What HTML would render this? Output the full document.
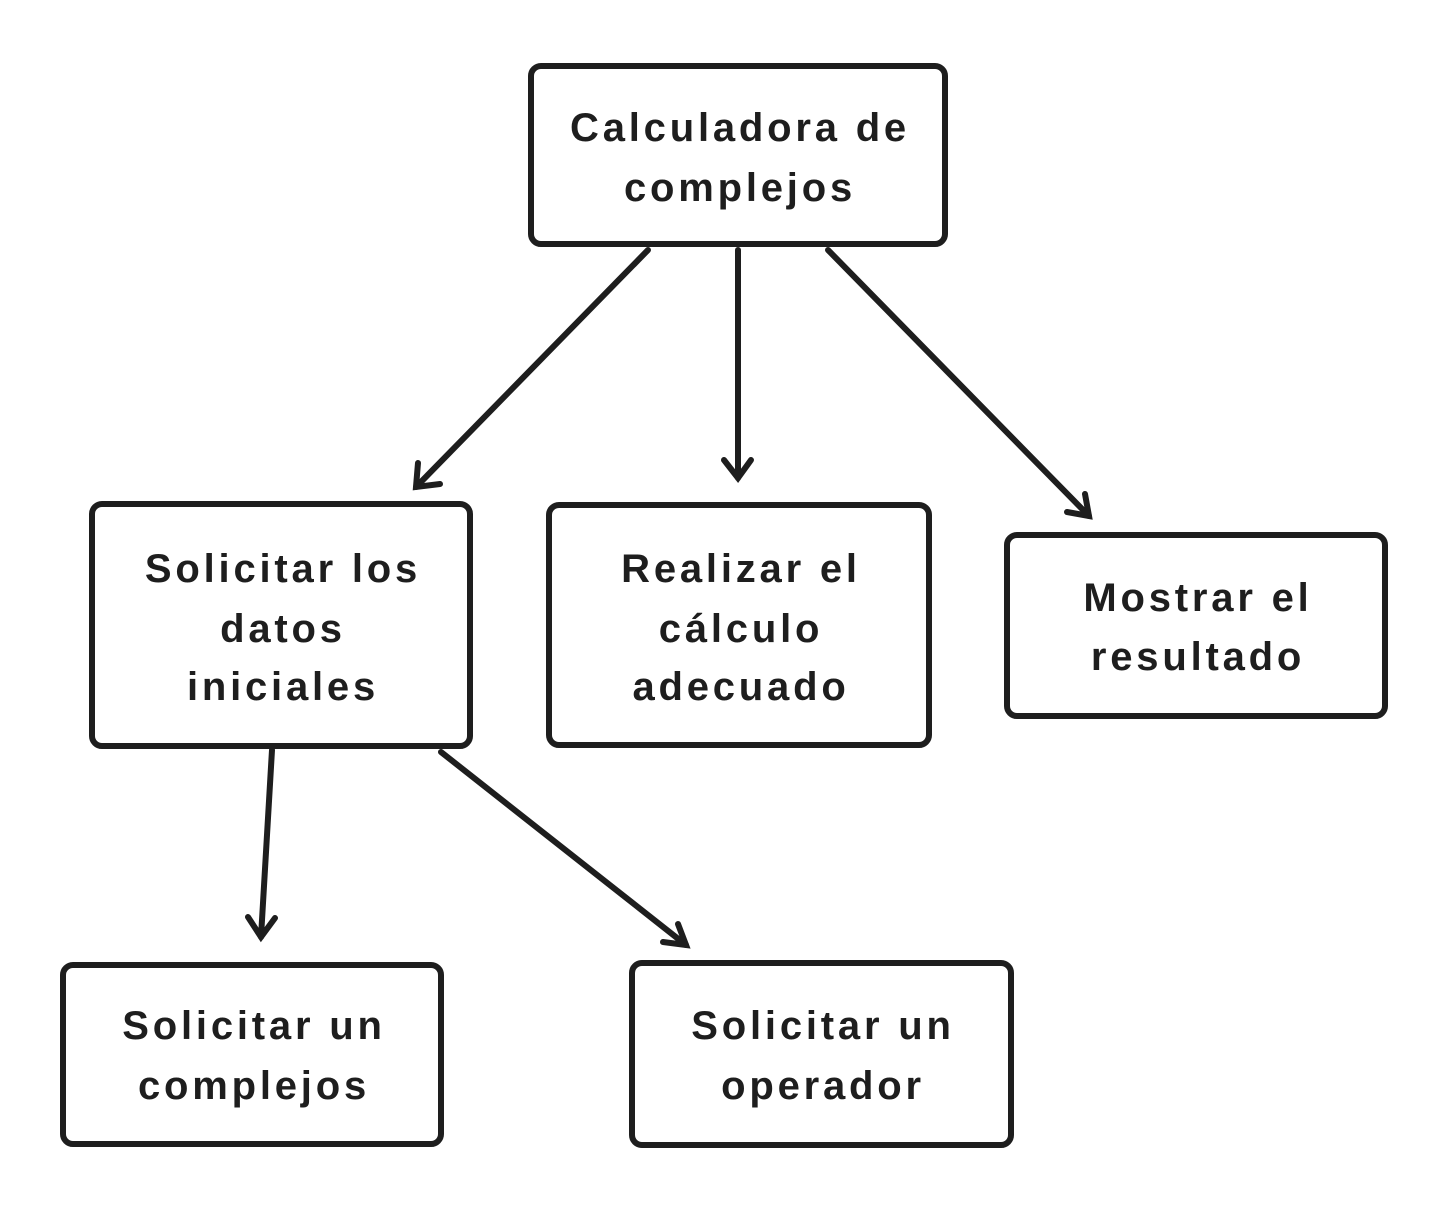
<!DOCTYPE html>
<html><head><meta charset="utf-8"><style>
html,body{margin:0;padding:0;background:#fff;}
svg{display:block}
text{font-family:"Liberation Sans",sans-serif;font-size:40px;font-weight:bold;fill:#1e1e1e;letter-spacing:3.8px;text-anchor:middle;}
</style></head><body>
<svg width="1449" height="1209" viewBox="0 0 1449 1209">
<g fill="none" stroke="#1e1e1e" stroke-width="6" stroke-linejoin="round">
<rect x="531" y="66" width="414" height="178" rx="10"/>
<rect x="92" y="504" width="378" height="242" rx="10"/>
<rect x="549" y="505" width="380" height="240" rx="10"/>
<rect x="1007" y="535" width="378" height="181" rx="10"/>
<rect x="63" y="965" width="378" height="179" rx="10"/>
<rect x="632" y="963" width="379" height="182" rx="10"/>
</g>
<g stroke="#1e1e1e" stroke-width="6" stroke-linecap="round" fill="none">
<line x1="648" y1="250" x2="416" y2="487"/>
<path d="M418,463 L416,487 L440,484"/>
<line x1="738" y1="250" x2="738" y2="478"/>
<path d="M724,460 L738,478 L751,460"/>
<line x1="828" y1="250" x2="1089" y2="516"/>
<path d="M1067,512 L1089,516 L1085,494"/>
<line x1="272" y1="750" x2="261" y2="937"/>
<path d="M248,917 L261,937 L275,918"/>
<line x1="441" y1="752" x2="686" y2="945"/>
<path d="M663,942 L686,945 L678,924"/>
</g>
<text x="740" y="141">Calculadora de</text>
<text x="740" y="201">complejos</text>
<text x="283" y="582">Solicitar los</text>
<text x="283" y="642">datos</text>
<text x="283" y="700">iniciales</text>
<text x="741" y="582">Realizar el</text>
<text x="741" y="642">cálculo</text>
<text x="741" y="700">adecuado</text>
<text x="1198" y="611">Mostrar el</text>
<text x="1198" y="670">resultado</text>
<text x="254" y="1039">Solicitar un</text>
<text x="254" y="1099">complejos</text>
<text x="823" y="1039">Solicitar un</text>
<text x="823" y="1099">operador</text>
</svg>
</body></html>
